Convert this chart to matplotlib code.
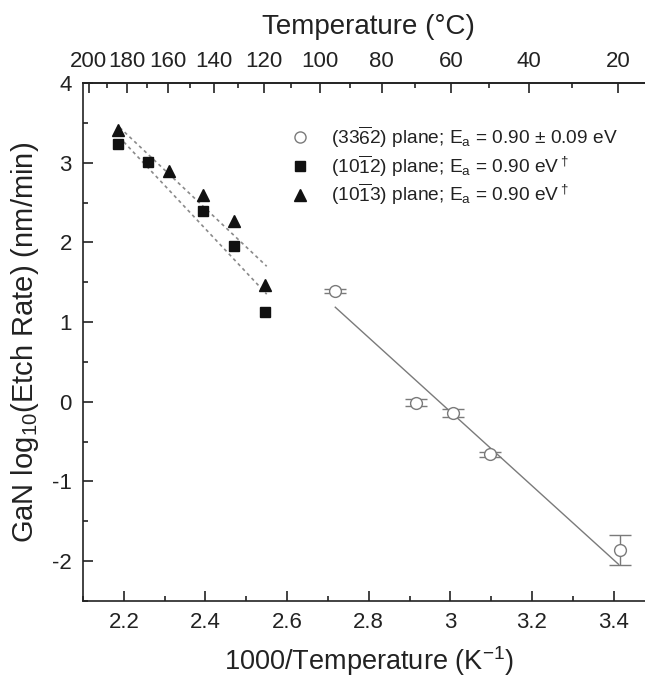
import matplotlib
matplotlib.use("Agg")
import matplotlib.pyplot as plt
import matplotlib as mpl
from matplotlib.lines import Line2D
from matplotlib.ticker import MultipleLocator

params = {
    "font.family": ["Liberation Sans", "DejaVu Sans"],
    "mathtext.fontset": "custom",
    "mathtext.rm": "Liberation Sans",
    "mathtext.it": "Liberation Sans:italic",
    "mathtext.bf": "Liberation Sans:bold",
    "font.size": 16,
    "axes.unicode_minus": False,
    "text.color": "#222222",
    "axes.labelcolor": "#222222",
    "xtick.color": "#222222",
    "ytick.color": "#222222",
    "axes.edgecolor": "#222222",
    "axes.linewidth": 1.2,
}
mpl.rcParams.update(params)

# (33-62) plane, open circles with y error bars
x_3362 = [2.718, 2.916, 3.006, 3.098, 3.416]
y_3362 = [1.39, -0.01, -0.145, -0.66, -1.86]
err_3362 = [0.025, 0.04, 0.05, 0.035, 0.19]
fit_3362_x = [2.718, 3.412]
fit_3362_y = [1.186, -2.04]

# (10-12) plane, squares
x_1012 = [2.185, 2.258, 2.394, 2.470, 2.546]
y_1012 = [3.23, 3.01, 2.39, 1.95, 1.12]
fit_1012_x = [2.20, 2.55]
fit_1012_y = [3.26, 1.35]

# (10-13) plane, triangles
x_1013 = [2.185, 2.311, 2.394, 2.470, 2.546]
y_1013 = [3.41, 2.89, 2.595, 2.27, 1.47]
fit_1013_x = [2.19, 2.55]
fit_1013_y = [3.44, 1.70]

top_ticks_c = [200, 180, 160, 140, 120, 100, 80, 60, 40, 20]

labels = [
    r"(33$\overline{6}$2) plane; E$_\mathrm{a}$ = 0.90 ± 0.09 eV",
    r"(10$\overline{1}$2) plane; E$_\mathrm{a}$ = 0.90 eV$^\dagger$",
    r"(10$\overline{1}$3) plane; E$_\mathrm{a}$ = 0.90 eV$^\dagger$",
]

fig = plt.figure(figsize=(6.45, 6.79), dpi=100)
ax = fig.add_axes([0.1287, 0.1149, 0.886, 0.7629])

gray = "#7a7a7a"
ax.plot(fit_3362_x, fit_3362_y, color=gray, lw=1.0, zorder=2)
ax.plot(fit_1012_x, fit_1012_y, color="#8a8a8a", lw=1.2, ls=(0, (2, 2)), zorder=2)
ax.plot(fit_1013_x, fit_1013_y, color="#8a8a8a", lw=1.2, ls=(0, (2, 2)), zorder=2)

ax.errorbar(x_3362, y_3362, yerr=err_3362, fmt="o", ms=8.5, mfc="white",
            mec=gray, mew=1.0, ecolor=gray, elinewidth=1.0, capsize=8,
            capthick=1.0, zorder=3)
ax.plot(x_1012, y_1012, "s", ms=7.5, color="#111111", zorder=4)
ax.plot(x_1013, y_1013, "^", ms=9, color="#111111", zorder=4)

ax.set_xlim(2.1, 3.5)
ax.set_ylim(-2.5, 4)
ax.xaxis.set_minor_locator(MultipleLocator(0.1))
ax.yaxis.set_major_locator(MultipleLocator(1))
ax.yaxis.set_minor_locator(MultipleLocator(0.5))
ax.set_xticks([2.2, 2.4, 2.6, 2.8, 3.0, 3.2, 3.4])
ax.set_xticklabels(["2.2", "2.4", "2.6", "2.8", "3", "3.2", "3.4"])
ax.tick_params(which="both", direction="in", top=False, right=False, width=1.2)
ax.tick_params(which="major", length=7, pad=8)
ax.tick_params(which="minor", length=3.5)
ax.set_xlabel(r"1000/Temperature (K$^{-1}$)", fontsize=19.5, labelpad=8)
ax.set_ylabel(r"GaN log$_{10}$(Etch Rate) (nm/min)", fontsize=21, labelpad=8)

sec = ax.secondary_xaxis("top", functions=(lambda x: 1000.0 / x - 273.15,
                                           lambda c: 1000.0 / (c + 273.15)))
sec.set_xticks(top_ticks_c)
sec.set_xticklabels([str(t) for t in top_ticks_c])
sec.xaxis.set_minor_locator(mpl.ticker.FixedLocator(
    [t + 10 for t in top_ticks_c[1:]] + [10]))
sec.tick_params(which="both", direction="in", width=1.2)
sec.tick_params(which="major", length=7, pad=8)
sec.tick_params(which="minor", length=3.5)
sec.set_xlabel("Temperature (°C)", fontsize=20, labelpad=12)

handles = [
    Line2D([], [], ls="none", marker="o", ms=8, mfc="white", mec=gray, mew=1.0),
    Line2D([], [], ls="none", marker="s", ms=7.5, color="#111111"),
    Line2D([], [], ls="none", marker="^", ms=9, color="#111111"),
]
ax.legend(handles, labels, loc="upper left", bbox_to_anchor=(0.35, 0.935),
          frameon=False, fontsize=13.75, handlelength=1.0, handletextpad=1.1,
          labelspacing=0.15, borderaxespad=0)

fig.savefig("out.png", dpi=100)
